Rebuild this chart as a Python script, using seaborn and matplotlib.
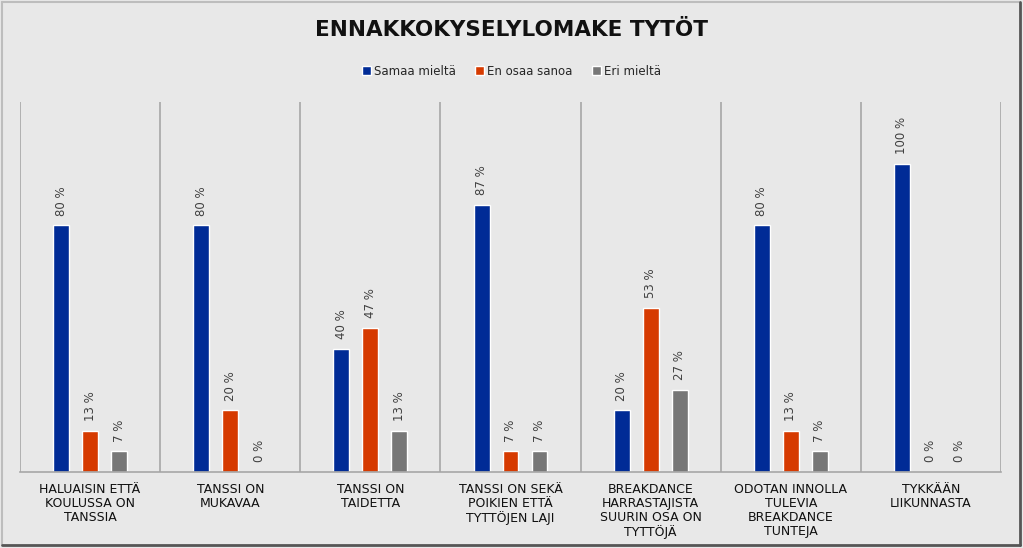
import matplotlib
matplotlib.use('Agg')
import matplotlib.pyplot as plt
import seaborn as sns
import pandas as pd
import numpy as np
from matplotlib.lines import Line2D

# data (percent)
categories = [
    'HALUAISIN ETTÄ\nKOULUSSA ON\nTANSSIA',
    'TANSSI ON\nMUKAVAA',
    'TANSSI ON\nTAIDETTA',
    'TANSSI ON SEKÄ\nPOIKIEN ETTÄ\nTYTTÖJEN LAJI',
    'BREAKDANCE\nHARRASTAJISTA\nSUURIN OSA ON\nTYTTÖJÄ',
    'ODOTAN INNOLLA\nTULEVIA\nBREAKDANCE\nTUNTEJA',
    'TYKKÄÄN\nLIIKUNNASTA',
]
series = ['Samaa mieltä', 'En osaa sanoa', 'Eri mieltä']
samaa = [80, 80, 40, 86.7, 20, 80, 100]
en_osaa = [13.3, 20, 46.7, 6.7, 53.3, 13.3, 0]
eri = [6.7, 0, 13.3, 6.7, 26.7, 6.7, 0]
colors = ['#002b96', '#d63a00', '#777777']
title = 'ENNAKKOKYSELYLOMAKE TYTÖT'

df = pd.DataFrame({
    'cat': categories * 3,
    'series': [series[0]] * 7 + [series[1]] * 7 + [series[2]] * 7,
    'value': samaa + en_osaa + eri,
})

sns.set_theme(style='white')
plt.rcParams['font.family'] = ['DejaVu Sans']
BG = '#e8e8e8'

fig = plt.figure(figsize=(10.23, 5.48), dpi=100, facecolor=BG)
ax = fig.add_axes([0.0196, 0.1387, 0.9589, 0.6753])
ax.set_facecolor(BG)

sns.barplot(df, x='cat', y='value', hue='series', hue_order=series,
            palette=colors, width=0.62, gap=0.45, saturation=1,
            order=categories, ax=ax, legend=True)

ax.set_ylim(0, 120)
ax.set_xlim(-0.5, len(categories) - 0.5)
ax.set_yticks([])
ax.set_xlabel('')
ax.set_ylabel('')

for cont in ax.containers:
    labels = [f'{v:.0f} %' for v in cont.datavalues]
    ax.bar_label(cont, labels=labels, rotation=90, padding=7,
                 color='#404040', fontsize=8.5)

# vertical separators between categories
for xb in np.arange(-0.5, len(categories), 1.0):
    ax.axvline(xb, color='#a6a6a6', lw=1.2, zorder=0)

for s in ['top', 'left', 'right']:
    ax.spines[s].set_visible(False)
ax.spines['bottom'].set_color('#a6a6a6')
ax.spines['bottom'].set_linewidth(1.2)

ax.tick_params(axis='x', length=0, pad=8)
ax.set_xticks(range(len(categories)))
ax.set_xticklabels(categories, fontsize=9, color='#101010',
                   linespacing=1.1, va='top')

leg = ax.legend(loc='center', ncol=3, frameon=False, fontsize=8.5,
                handlelength=0.75, handleheight=0.75,
                handletextpad=0.3, columnspacing=1.6)
leg.set_bbox_to_anchor((0.5, 0.87), transform=fig.transFigure)

fig.text(0.5, 0.945, title, ha='center', va='center', fontsize=15.5,
         fontweight='bold', color='#111111')

# outer frame: light top/left, darker bottom/right
fig.add_artist(Line2D([0.002, 0.002], [0.005, 0.997], transform=fig.transFigure, color='#bdbdbd', lw=1.5))
fig.add_artist(Line2D([0.002, 0.997], [0.997, 0.997], transform=fig.transFigure, color='#bdbdbd', lw=1.5))
fig.add_artist(Line2D([0.997, 0.997], [0.005, 0.997], transform=fig.transFigure, color='#555555', lw=2))
fig.add_artist(Line2D([0.002, 0.997], [0.005, 0.005], transform=fig.transFigure, color='#555555', lw=2))

fig.savefig('out.png', dpi=100, facecolor=BG)
